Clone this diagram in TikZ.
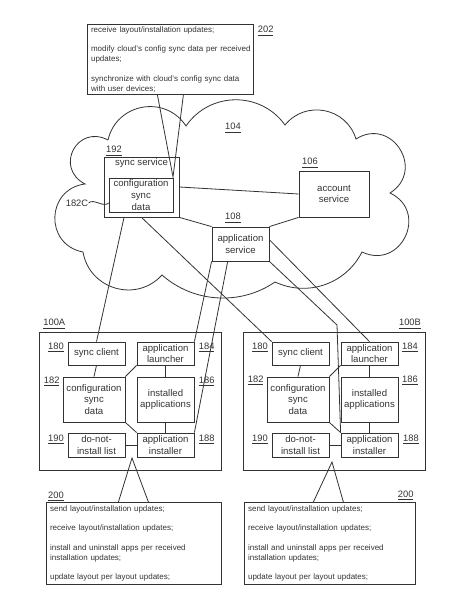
\documentclass[tikz,border=0pt]{standalone}
\usepackage{fontspec}
\setmainfont{Liberation Sans}
\usetikzlibrary{positioning}

\tikzstyle{block} = [draw, rectangle, inner sep=0pt, align=center,
    font=\fontsize{7.2}{8.7}\selectfont, minimum width=42.75pt]
\tikzstyle{device} = [draw, rectangle, minimum width=136.5pt, minimum height=103.5pt]
\tikzstyle{note} = [draw, rectangle, align=left, inner xsep=2.75pt, inner ysep=0pt,
    font=\fontsize{6}{7.35}\selectfont]
\tikzstyle{ref} = [inner sep=0pt, font=\fontsize{7}{8}\selectfont]

\begin{document}
\begin{tikzpicture}[x=0.75pt, y=0.75pt, color=black!80, line width=0.6pt, node distance=34.5pt]
    \useasboundingbox (0,0) rectangle (451,600);
    % cloud
    \draw (108,460) to[bend left=67, looseness=1.22] (186,474)
        to[bend left=55, looseness=1.08] (285,475)
        to[bend left=62, looseness=1.16] (356,461)
        to[bend left=90, looseness=1.7] (390,407)
        to[bend left=90, looseness=1.7] (362,348)
        to[bend left=44, looseness=1.0] (275,318)
        to[bend left=38, looseness=0.95] (162,325)
        to[bend left=64, looseness=1.18] (83,348)
        to[bend left=81, looseness=1.48] (85,416)
        to[bend left=90, looseness=1.8] (108,460);
    \node [ref] (n104) at (233,472) {\underline{104}};

    \node [note, anchor=north west, minimum width=124.5pt, minimum height=52.5pt, text width=119pt] (note202) at (87,576)
        {receive layout/installation updates;\\[7.35pt] \mbox{modify cloud's config sync data per received}\\ updates;\\[7.35pt] synchronize with cloud's config sync data\\ with user devices;};
    \node [ref] (n202) at (265.7,569) {\underline{202}};

    \node [block, minimum width=56.25pt, minimum height=45pt,
        label={[anchor=north, inner sep=1.5pt, font=\fontsize{7.2}{8.7}\selectfont]north:sync service}] (syncsvc) at (141.5,413) {};
    \node [block, minimum width=48pt, minimum height=25.5pt] (confcloud) at (141,405) {configuration\\sync\\data};
    \node [ref] (n192) at (114,449) {\underline{192}};
    \node [ref] (n182C) at (77,397) {182C};
    \node [block, minimum width=52.5pt, minimum height=34.5pt] (account) at (334,406) {account\\service};
    \node [ref] (n106) at (310,437) {\underline{106}};
    \node [block, minimum height=25.5pt] (appsvc) at (240.5,356) {application\\service};
    \node [ref] (n108) at (233,382) {\underline{108}};

    \node [device] (devA) at (130,199) {};
    \node [device, right of=devA, node distance=153pt] (devB) {};
    \node [ref] (n100A) at (54.3,276) {\underline{100A}};
    \node [ref] (n100B) at (410,276) {\underline{100B}};

    \node [block, minimum height=17.25pt] (syncA) at (96.5,246.5) {sync client};
    \node [block, minimum height=17.25pt, right of=syncA, node distance=51.75pt] (launchA) {application\\launcher};
    \node [block, minimum width=46.5pt, minimum height=33.75pt, below of=syncA, xshift=-1.9pt] (confA) {configuration\\sync\\data};
    \node [block, minimum height=33.75pt, below of=launchA] (appsA) {installed\\applications};
    \node [block, minimum height=18pt, below of=confA, xshift=1.9pt, node distance=34.1pt] (dnilA) {do-not-\\install list};
    \node [block, minimum height=18pt, below of=appsA, node distance=34.1pt] (instA) {application\\installer};

    \node [block, minimum height=17.25pt, right of=syncA, node distance=153pt] (syncB) {sync client};
    \node [block, minimum height=17.25pt, right of=launchA, node distance=153pt] (launchB) {application\\launcher};
    \node [block, minimum width=46.5pt, minimum height=33.75pt, right of=confA, node distance=153pt] (confB) {configuration\\sync\\data};
    \node [block, minimum height=33.75pt, right of=appsA, node distance=153pt] (appsB) {installed\\applications};
    \node [block, minimum height=18pt, right of=dnilA, node distance=153pt] (dnilB) {do-not-\\install list};
    \node [block, minimum height=18pt, right of=instA, node distance=153pt] (instB) {application\\installer};

    \node [ref] at (56,252.7) {\underline{180}};
    \node [ref] at (206.7,252.7) {\underline{184}};
    \node [ref] at (51.7,218.3) {\underline{182}};
    \node [ref] at (206.7,218.3) {\underline{186}};
    \node [ref] at (56,160.7) {\underline{190}};
    \node [ref] at (206.7,160.7) {\underline{188}};
    \node [ref] at (260,252.7) {\underline{180}};
    \node [ref] at (410,252.7) {\underline{184}};
    \node [ref] at (255.7,219.3) {\underline{182}};
    \node [ref] at (410,219.3) {\underline{186}};
    \node [ref] at (260,160.7) {\underline{190}};
    \node [ref] at (411,160.7) {\underline{188}};

    \node [note, anchor=north west, minimum width=131pt, minimum height=61.3pt, text width=125.5pt] (note200A) at (46,98)
        {send layout/installation updates;\\[7.35pt] receive layout/installation updates;\\[7.35pt] install and uninstall apps per received\\ installation updates;\\[7.35pt] update layout per layout updates;};
    \node [note, anchor=north west, minimum width=128.25pt, minimum height=61.3pt, text width=122.75pt] (note200B) at (244,98)
        {send layout/installation updates;\\[7.35pt] receive layout/installation updates;\\[7.35pt] install and uninstall apps per received\\ installation updates;\\[7.35pt] update layout per layout updates;};
    \node [ref] (n200A) at (56,103.3) {\underline{200}};
    \node [ref] (n200B) at (405.7,104.3) {\underline{200}};

    % callout pointers
    \coordinate (tip202) at (173,423);
    \coordinate (tip200A) at (132,142);
    \coordinate (tip200B) at (332,138);
    \draw ([xshift=-9.75pt]note202.south) -- (tip202) -- ([xshift=9.75pt]note202.south);
    \draw ([xshift=-11.5pt]note200A.north) -- (tip200A) -- ([xshift=11pt]note200A.north);
    \draw ([xshift=-12.4pt]note200B.north) -- (tip200B) -- ([xshift=10.1pt]note200B.north);
    \draw (n182C.east) .. controls +(5,5) and +(-5,-5) .. ([yshift=-6pt]confcloud.west);

    % cloud links
    \draw (syncsvc.east) -- (account.west);
    \draw (syncsvc.south east) -- (appsvc.north west);
    \draw (appsvc.north east) -- (account.south west);
    \draw ([xshift=-13.1pt]syncsvc.south) -- (syncA.north);
    \draw (syncsvc.south) -- (syncB.north west);
    \draw (appsvc.south west) -- (launchA.north east);
    \draw ([xshift=-9.6pt]appsvc.south) -- (instA.north east);
    \draw ([yshift=3.2pt]appsvc.east) -- (launchB.north);
    \coordinate (bendB) at (337,275);
    \draw (appsvc.south east) -- (bendB) -- (instB.north west);

    % device links
    \draw (syncA.south) -- (confA.north);
    \draw (confA.north east) -- (launchA.south west);
    \draw (launchA.south) -- (appsA.north);
    \draw (appsA.south) -- (instA.north);
    \draw (confA.south east) -- (instA.north west);
    \draw (dnilA.east) -- (instA.west);
    \draw (syncB.south) -- (confB.north);
    \draw (confB.north east) -- (launchB.south west);
    \draw (launchB.south) -- (appsB.north);
    \draw (appsB.south) -- (instB.north);
    \draw (confB.south east) -- (instB.north west);
    \draw (dnilB.east) -- (instB.west);
\end{tikzpicture}
\end{document}
